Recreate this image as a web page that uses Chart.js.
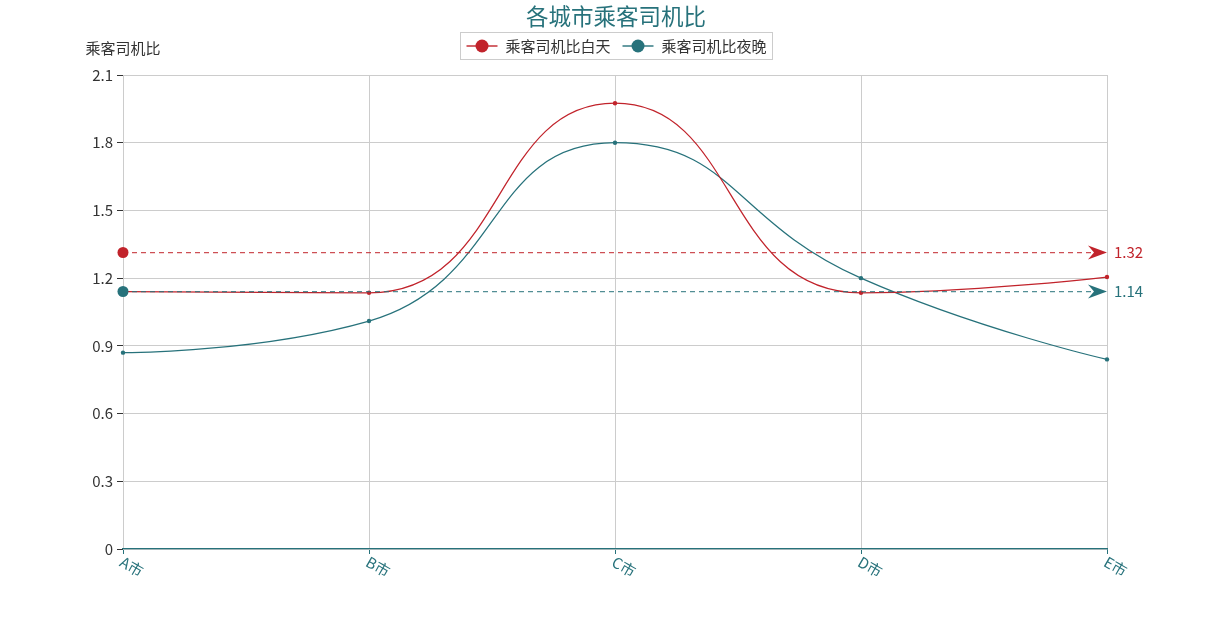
<!DOCTYPE html>
<html>
<head>
<meta charset="utf-8">
<script src="https://cdn.jsdelivr.net/npm/chart.js@4/dist/chart.umd.min.js"></script>
<style>
  body { margin: 0; background: #fff; }
  #wrap { width: 1231px; height: 625px; }
</style>
</head>
<body>
<div id="wrap"><canvas id="c" width="1231" height="625"></canvas></div>
<script>
// data
const categories = ['A市', 'B市', 'C市', 'D市', 'E市'];
const dayValues = [1.14, 1.135, 1.975, 1.135, 1.205];
const nightValues = [0.87, 1.01, 1.80, 1.20, 0.84];
const seriesNames = ['乘客司机比白天', '乘客司机比夜晚'];
const seriesColors = ['#C1232B', '#27727B'];
const chartTitle = '各城市乘客司机比';
const yAxisName = '乘客司机比';
const yMax = 2.1;
const yStep = 0.3;

const FONT = "'Microsoft YaHei', 'Noto Sans CJK SC', sans-serif";
Chart.defaults.font.family = FONT;

// smooth curve with control points clamped between neighbours (no overshoot)
const smoothCurve = {
  id: 'smoothCurve',
  beforeDatasetsDraw(chart) {
    const smooth = 0.5;
    chart.getSortedVisibleDatasetMetas().forEach(meta => {
      const pts = meta.data;
      const n = pts.length;
      pts[0].cp1x = pts[0].x; pts[0].cp1y = pts[0].y;
      pts[0].cp2x = pts[0].x; pts[0].cp2y = pts[0].y;
      pts[n - 1].cp1x = pts[n - 1].x; pts[n - 1].cp1y = pts[n - 1].y;
      pts[n - 1].cp2x = pts[n - 1].x; pts[n - 1].cp2y = pts[n - 1].y;
      for (let i = 1; i < n - 1; i++) {
        const p = pts[i - 1], c = pts[i], q = pts[i + 1];
        let vx = q.x - p.x, vy = q.y - p.y;
        const lp = Math.hypot(c.x - p.x, c.y - p.y);
        const ln = Math.hypot(q.x - c.x, q.y - c.y);
        const r = ln / (ln + lp);
        let nx = c.x + vx * smooth * r, ny = c.y + vy * smooth * r;
        nx = Math.max(Math.min(nx, Math.max(q.x, c.x)), Math.min(q.x, c.x));
        ny = Math.max(Math.min(ny, Math.max(q.y, c.y)), Math.min(q.y, c.y));
        vx = nx - c.x; vy = ny - c.y;
        let px = c.x - vx * lp / ln, py = c.y - vy * lp / ln;
        px = Math.max(Math.min(px, Math.max(p.x, c.x)), Math.min(p.x, c.x));
        py = Math.max(Math.min(py, Math.max(p.y, c.y)), Math.min(p.y, c.y));
        vx = c.x - px; vy = c.y - py;
        nx = c.x + vx * ln / lp; ny = c.y + vy * ln / lp;
        c.cp1x = px; c.cp1y = py;
        c.cp2x = nx; c.cp2y = ny;
      }
      meta.dataset._pointsUpdated = true;
      meta.dataset._path = undefined;
    });
  }
};

// title, legend, y axis name, rotated x labels
const decorations = {
  id: 'decorations',
  afterDraw(chart) {
    const ctx = chart.ctx;
    ctx.save();
    // title
    ctx.fillStyle = '#27727B';
    ctx.font = '22.5px ' + FONT;
    ctx.textAlign = 'center';
    ctx.textBaseline = 'middle';
    ctx.fillText(chartTitle, 616, 16);

    // legend box
    ctx.font = '15px ' + FONT;
    ctx.textAlign = 'left';
    const items = seriesNames.map(n => ctx.measureText(n).width);
    const iconW = 31, gap = 8, itemGap = 12, pad = 6;
    const total = items.reduce((s, w) => s + iconW + gap + w, 0) + itemGap * (items.length - 1) + pad * 2;
    let bx = Math.round(616 - total / 2) + 0.5;
    ctx.strokeStyle = '#ccc';
    ctx.lineWidth = 1;
    ctx.strokeRect(bx, 32.5, total, 27);
    let x = bx + pad;
    const ly = 46;
    seriesNames.forEach((name, i) => {
      ctx.strokeStyle = seriesColors[i];
      ctx.globalAlpha = 0.7;
      ctx.lineWidth = 2;
      ctx.beginPath();
      ctx.moveTo(x, ly);
      ctx.lineTo(x + iconW, ly);
      ctx.stroke();
      ctx.globalAlpha = 1;
      ctx.fillStyle = seriesColors[i];
      ctx.beginPath();
      ctx.arc(x + iconW / 2, ly, 6.5, 0, Math.PI * 2);
      ctx.fill();
      ctx.fillStyle = '#333';
      ctx.fillText(name, x + iconW + gap, ly);
      x += iconW + gap + items[i] + itemGap;
    });

    // y axis name
    ctx.fillStyle = '#333';
    ctx.font = '15px ' + FONT;
    ctx.textAlign = 'center';
    ctx.fillText(yAxisName, 123, 48);

    // x labels rotated
    const xs = chart.scales.x;
    ctx.fillStyle = '#27727B';
    ctx.textAlign = 'left';
    ctx.textBaseline = 'top';
    categories.forEach((c, i) => {
      ctx.save();
      ctx.translate(xs.getPixelForValue(i) + 2, xs.top + 5);
      ctx.rotate(Math.PI / 6);
      ctx.fillText(c, 0, 0);
      ctx.restore();
    });
    ctx.restore();
  }
};

// average mark lines
const markLines = {
  id: 'markLines',
  afterDatasetsDraw(chart) {
    const ctx = chart.ctx;
    const xs = chart.scales.x, ys = chart.scales.y;
    const x0 = xs.getPixelForValue(0), x1 = xs.getPixelForValue(categories.length - 1);
    chart.data.datasets.forEach((ds, i) => {
      const mean = ds.data.reduce((s, v) => s + v, 0) / ds.data.length;
      const y = Math.round(ys.getPixelForValue(mean)) + 0.5;
      const col = seriesColors[i];
      ctx.save();
      ctx.strokeStyle = col;
      ctx.globalAlpha = 0.8;
      ctx.lineWidth = 1.25;
      ctx.setLineDash([5, 4]);
      ctx.beginPath();
      ctx.moveTo(x0, y);
      ctx.lineTo(x1 - 8, y);
      ctx.stroke();
      ctx.setLineDash([]);
      ctx.globalAlpha = 1;
      ctx.fillStyle = col;
      ctx.beginPath();
      ctx.arc(x0, y, 5.5, 0, Math.PI * 2);
      ctx.fill();
      ctx.beginPath();
      ctx.moveTo(x1, y);
      ctx.lineTo(x1 - 19, y - 7);
      ctx.lineTo(x1 - 13, y);
      ctx.lineTo(x1 - 19, y + 7);
      ctx.closePath();
      ctx.fill();
      ctx.font = '15px ' + FONT;
      ctx.textAlign = 'left';
      ctx.textBaseline = 'middle';
      ctx.fillText(mean.toFixed(2), x1 + 7, y);
      ctx.restore();
    });
  }
};

new Chart(document.getElementById('c'), {
  type: 'line',
  data: {
    labels: categories,
    datasets: [dayValues, nightValues].map((vals, i) => ({
      label: seriesNames[i],
      data: vals,
      borderColor: seriesColors[i],
      backgroundColor: seriesColors[i],
      borderWidth: 1.25,
      pointRadius: 2.2,
      pointBorderWidth: 0,
      tension: 0.5,
      fill: false
    }))
  },
  options: {
    responsive: false,
    animation: false,
    layout: { padding: { left: 0, right: 124, top: 75, bottom: 0 } },
    plugins: {
      legend: { display: false },
      title: { display: false },
      tooltip: { enabled: false }
    },
    scales: {
      x: {
        offset: false,
        ticks: { display: false },
        grid: { color: '#ccc', tickColor: '#27727B', tickLength: 5 },
        border: { color: '#27727B', width: 1.25 },
        afterFit(s) { s.height = 76; }
      },
      y: {
        min: 0,
        max: yMax,
        ticks: {
          stepSize: yStep,
          color: '#333',
          font: { size: 15 },
          padding: 4,
          callback: v => Number(v.toFixed(1)).toString()
        },
        grid: { color: '#ccc', tickColor: '#333', tickLength: 6 },
        border: { display: false },
        afterFit(s) { s.width = 123; }
      }
    }
  },
  plugins: [smoothCurve, markLines, decorations]
});
</script>
</body>
</html>
